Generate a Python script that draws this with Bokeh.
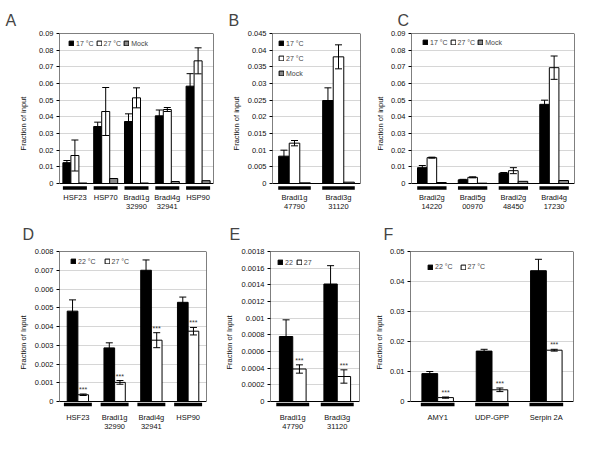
from bokeh.plotting import figure
from bokeh.layouts import column, row
from bokeh.models import (ColumnDataSource, FactorRange, Range1d, FixedTicker, Whisker,
                          TeeHead, LabelSet, CustomJSTickFormatter, BoxAnnotation)
from bokeh.transform import dodge
from bokeh.core.properties import value
from bokeh.embed import file_html
from bokeh.resources import INLINE

FONT = "Liberation Sans"

# ---------------- data ----------------
# Panel A
a_cats = ["HSF23", "HSP70", "Bradi1g 32990", "Bradi4g 32941", "HSP90"]
a_line1 = ["HSF23", "HSP70", "Bradi1g", "Bradi4g", "HSP90"]
a_line2 = ["", "", "32990", "32941", ""]
a_17 = [0.0125, 0.0342, 0.0372, 0.0406, 0.0584]
a_17_err = [0.0013, 0.0026, 0.0046, 0.0035, 0.0075]
a_27 = [0.0168, 0.0432, 0.0514, 0.0444, 0.0736]
a_27_err = [0.0093, 0.0144, 0.0060, 0.0012, 0.0078]
a_mock = [0.0003, 0.0030, 0.0003, 0.0012, 0.0017]
a_yticks = [0, 0.01, 0.02, 0.03, 0.04, 0.05, 0.06, 0.07, 0.08, 0.09]
a_ylabels = ["0", "0.01", "0.02", "0.03", "0.04", "0.05", "0.06", "0.07", "0.08", "0.09"]

# Panel B
b_cats = ["Bradi1g 47790", "Bradi3g 31120"]
b_line1 = ["Bradi1g", "Bradi3g"]
b_line2 = ["47790", "31120"]
b_17 = [0.0082, 0.0249]
b_17_err = [0.0018, 0.0038]
b_27 = [0.0121, 0.0380]
b_27_err = [0.0008, 0.0036]
b_mock = [0.0002, 0.0004]
b_yticks = [0, 0.005, 0.01, 0.015, 0.02, 0.025, 0.03, 0.035, 0.04, 0.045]
b_ylabels = ["0", "0.005", "0.01", "0.015", "0.02", "0.025", "0.03", "0.035", "0.04", "0.045"]

# Panel C
c_cats = ["Bradi2g 14220", "Bradi5g 00970", "Bradi2g 48450", "Bradi4g 17230"]
c_line1 = ["Bradi2g", "Bradi5g", "Bradi2g", "Bradi4g"]
c_line2 = ["14220", "00970", "48450", "17230"]
c_17 = [0.0095, 0.0022, 0.0062, 0.0475]
c_17_err = [0.0013, 0.0003, 0.0004, 0.0025]
c_27 = [0.0155, 0.0037, 0.0077, 0.0695]
c_27_err = [0.0003, 0.0003, 0.0018, 0.0070]
c_mock = [0.0006, 0.0002, 0.0013, 0.0018]
c_yticks = a_yticks
c_ylabels = a_ylabels

# Panel D
d_cats = ["HSF23", "Bradi1g 32990", "Bradi4g 32941", "HSP90"]
d_line1 = ["HSF23", "Bradi1g", "Bradi4g", "HSP90"]
d_line2 = ["", "32990", "32941", ""]
d_22 = [0.00482, 0.00286, 0.00700, 0.00529]
d_22_err = [0.00060, 0.00027, 0.00055, 0.00028]
d_27 = [0.00036, 0.00102, 0.00327, 0.00375]
d_27_err = [0.00004, 0.00010, 0.00040, 0.00020]
d_yticks = [0, 0.001, 0.002, 0.003, 0.004, 0.005, 0.006, 0.007, 0.008]
d_ylabels = ["0", "0.001", "0.002", "0.003", "0.004", "0.005", "0.006", "0.007", "0.008"]

# Panel E
e_cats = ["Bradi1g 47790", "Bradi3g 31120"]
e_line1 = ["Bradi1g", "Bradi3g"]
e_line2 = ["47790", "31120"]
e_22 = [0.00078, 0.00141]
e_22_err = [0.00020, 0.00022]
e_27 = [0.00039, 0.00030]
e_27_err = [0.00005, 0.00008]
e_yticks = [0, 0.0002, 0.0004, 0.0006, 0.0008, 0.001, 0.0012, 0.0014, 0.0016, 0.0018]
e_ylabels = ["0", "0.0002", "0.0004", "0.0006", "0.0008", "0.001", "0.0012", "0.0014", "0.0016", "0.0018"]

# Panel F
f_cats = ["AMY1", "UDP-GPP", "Serpin 2A"]
f_line1 = ["AMY1", "UDP-GPP", "Serpin 2A"]
f_line2 = ["", "", ""]
f_22 = [0.0093, 0.0168, 0.0436]
f_22_err = [0.0007, 0.0006, 0.0038]
f_27 = [0.0013, 0.0039, 0.0171]
f_27_err = [0.0002, 0.0006, 0.0003]
f_yticks = [0, 0.01, 0.02, 0.03, 0.04, 0.05]
f_ylabels = ["0", "0.01", "0.02", "0.03", "0.04", "0.05"]

BLACK, WHITE, MOCK = "#000000", "#ffffff", "#8a8a8a"
DATA_H = 150   # pixel height of the 0..ymax data box


def make_panel(letter, cats, line1, line2, series, yticks, ylabels, ytitle,
               width, height, left, right, top, bottom, ext, bar_w, under_half,
               under_px, lab1_px, lab2_px, legend_loc, legend_orient, legend_spacing,
               title_offset, title_standoff, ylab_standoff, stars=False):
    ymax = yticks[-1]
    px = ymax / DATA_H
    n = len(series)
    data = dict(cat=cats)
    for i, (name, vals, errs, fill) in enumerate(series):
        data[f"v{i}"] = vals
        if errs is not None:
            data[f"lo{i}"] = [v - e for v, e in zip(vals, errs)]
            data[f"hi{i}"] = [v + e for v, e in zip(vals, errs)]
            data[f"st{i}"] = [v + e + 1.0 * px for v, e in zip(vals, errs)]
    data["stars"] = ["***"] * len(cats)
    src = ColumnDataSource(data)

    p = figure(x_range=FactorRange(factors=cats, range_padding=0),
               y_range=Range1d(-ext * px, ymax),
               width=width, height=height, output_backend="svg", toolbar_location=None,
               min_border_left=left, min_border_right=right, min_border_top=top,
               min_border_bottom=bottom, title=letter)
    p.background_fill_color = "white"
    p.border_fill_color = "white"
    p.outline_line_color = None

    for i, (name, vals, errs, fill) in enumerate(series):
        off = (i - (n - 1) / 2) * bar_w
        p.vbar(x=dodge("cat", off, range=p.x_range), top=f"v{i}", width=bar_w, source=src,
               fill_color=fill, line_color="black", line_width=1, legend_label=name)
    for i, (name, vals, errs, fill) in enumerate(series):
        if errs is None:
            continue
        off = (i - (n - 1) / 2) * bar_w
        w = Whisker(source=src, base=dodge("cat", off, range=p.x_range), lower=f"lo{i}",
                    upper=f"hi{i}", line_color="black", line_width=1, level="annotation",
                    upper_head=TeeHead(size=7, line_color="black", line_width=1),
                    lower_head=TeeHead(size=7, line_color="black", line_width=1))
        p.add_layout(w)
        if stars and i == 1:
            st = LabelSet(source=src, x=dodge("cat", off, range=p.x_range), y=f"st{i}",
                          text="stars", text_align="center", text_baseline="bottom",
                          text_font_size="7px", text_font=value(FONT), text_color="#333333")
            p.add_layout(st)

    # box around the 0..ymax data area
    p.add_layout(BoxAnnotation(bottom=0, top=ymax, fill_alpha=0, line_color="black",
                               line_width=1, line_alpha=1, level="overlay"))

    # category underlines and labels (below zero, inside the extended frame)
    us = ColumnDataSource(dict(cat=cats, base=[-under_px * px] * len(cats),
                               y1=[-lab1_px * px] * len(cats), y2=[-lab2_px * px] * len(cats),
                               l1=line1, l2=line2))
    ul = Whisker(source=us, dimension="width", base="base",
                 lower=dodge("cat", -under_half, range=p.x_range),
                 upper=dodge("cat", under_half, range=p.x_range),
                 line_color="black", line_width=3.5, upper_head=None, lower_head=None,
                 level="overlay")
    p.add_layout(ul)
    for col, yc in (("l1", "y1"), ("l2", "y2")):
        ls = LabelSet(source=us, x="cat", y=yc, text=col, text_align="center",
                      text_baseline="middle", text_font_size="7.5px", text_font=value(FONT),
                      text_color="#111111")
        p.add_layout(ls)

    # axes
    p.xaxis.visible = False
    p.xgrid.visible = False
    ax = p.yaxis[0]
    ax.ticker = FixedTicker(ticks=yticks)
    ax.major_label_overrides = {t: l for t, l in zip(yticks, ylabels)}
    ax.formatter = CustomJSTickFormatter(code="return String(parseFloat(tick.toFixed(6)))")
    ax.axis_label = ytitle
    ax.axis_label_text_font_size = "7.5px"
    ax.axis_label_text_font_style = "normal"
    ax.axis_label_text_font = FONT
    ax.axis_label_text_color = "#111111"
    ax.axis_label_standoff = ylab_standoff
    ax.major_label_text_font_size = "7.5px"
    ax.major_label_text_font = FONT
    ax.major_label_text_color = "#111111"
    ax.major_label_standoff = 3
    ax.major_tick_in = 0
    ax.major_tick_out = 3
    ax.minor_tick_line_color = None
    ax.axis_line_color = None
    p.ygrid.grid_line_color = "#d6d6d6"

    # legend
    lg = p.legend[0]
    lg.location = (legend_loc[0], legend_loc[1] + ext)
    lg.orientation = legend_orient
    lg.glyph_width = 6
    lg.glyph_height = 6
    lg.label_text_font_size = "7px"
    lg.label_text_font = FONT
    lg.label_standoff = 2
    lg.label_height = 9
    lg.label_width = 0
    lg.spacing = legend_spacing
    lg.padding = 0
    lg.margin = 0
    lg.border_line_alpha = 0
    lg.background_fill_alpha = 0

    # panel letter
    p.title.text_font_size = "16px"
    p.title.text_font_style = "normal"
    p.title.text_font = FONT
    p.title.align = "left"
    p.title.offset = title_offset
    p.title.standoff = title_standoff
    return p


TOP_H = 215
BOT_H = 226
EXT_T = 30
EXT_B = 32
pA = make_panel("A", a_cats, a_line1, a_line2,
                [("17 \u00b0C", a_17, a_17_err, BLACK), ("27 \u00b0C", a_27, a_27_err, WHITE),
                 ("Mock", a_mock, None, MOCK)],
                a_yticks, a_ylabels, "Fraction of input",
                225, TOP_H, 59, 12, 33, 2, EXT_T, 0.26, 0.39, 4.5, 14, 23,
                (9, 135.5), "horizontal", 2, -54, 10, 8)
pB = make_panel("B", b_cats, b_line1, b_line2,
                [("17 \u00b0C", b_17, b_17_err, BLACK), ("27 \u00b0C", b_27, b_27_err, WHITE),
                 ("Mock", b_mock, None, MOCK)],
                b_yticks, b_ylabels, "Fraction of input",
                145, TOP_H, 47, 10, 33, 2, EXT_T, 0.24, 0.37, 4.5, 14, 23,
                (6, 105.5), "vertical", 6, -44, 10, 4)
pC = make_panel("C", c_cats, c_line1, c_line2,
                [("17 \u00b0C", c_17, c_17_err, BLACK), ("27 \u00b0C", c_27, c_27_err, WHITE),
                 ("Mock", c_mock, None, MOCK)],
                c_yticks, c_ylabels, "Fraction of input",
                214, TOP_H, 41, 10, 33, 2, EXT_T, 0.235, 0.36, 4.5, 14, 23,
                (11, 136.5), "horizontal", 2, -14, 10, 3)
pD = make_panel("D", d_cats, d_line1, d_line2,
                [("22 \u00b0C", d_22, d_22_err, BLACK), ("27 \u00b0C", d_27, d_27_err, WHITE)],
                d_yticks, d_ylabels, "Fraction of Input",
                220, BOT_H, 59, 14, 36, 8, EXT_B, 0.29, 0.38, 3, 16, 25,
                (11, 135.5), "horizontal", 8, -37, 17, 4, stars=True)
pE = make_panel("E", e_cats, e_line1, e_line2,
                [("22", e_22, e_22_err, BLACK), ("27", e_27, e_27_err, WHITE)],
                e_yticks, e_ylabels, "Fraction of Input",
                151, BOT_H, 50, 12, 36, 8, EXT_B, 0.30, 0.37, 3, 16, 25,
                (7, 134.5), "horizontal", 3, -41, 17, 5, stars=True)
pF = make_panel("F", f_cats, f_line1, f_line2,
                [("22 \u00b0C", f_22, f_22_err, BLACK), ("27 \u00b0C", f_27, f_27_err, WHITE)],
                f_yticks, f_ylabels, "Fraction of Input",
                213, BOT_H, 39, 11, 36, 8, EXT_B, 0.29, 0.31, 3, 16, 25,
                (17, 130), "horizontal", 7, -27, 17, 3, stars=True)

layout = column(row(pA, pB, pC), row(pD, pE, pF))
open("out.html", "w").write(file_html(layout, INLINE))
